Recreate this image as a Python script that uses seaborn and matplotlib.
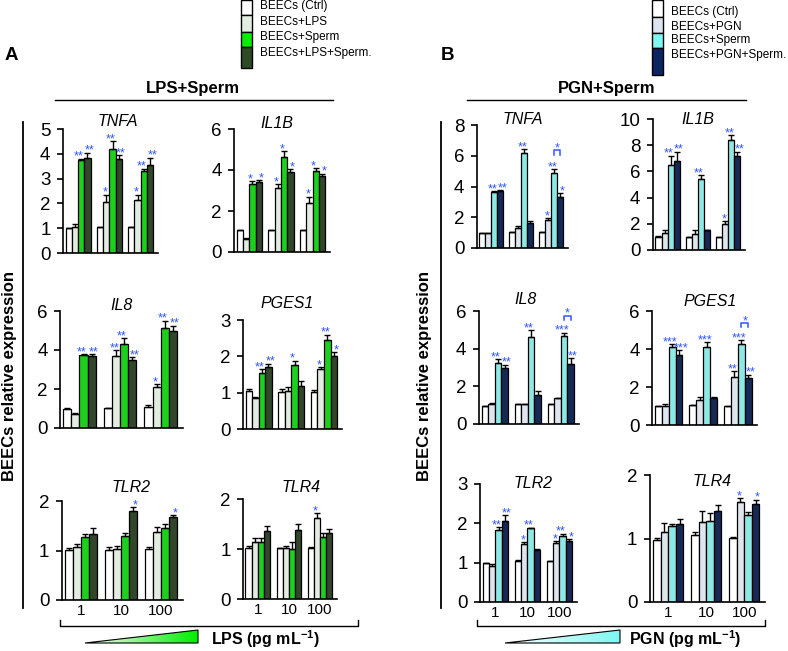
import numpy as np
import pandas as pd
import matplotlib
matplotlib.use("Agg")
import matplotlib.pyplot as plt
from matplotlib.colors import LinearSegmentedColormap
from matplotlib.patches import Polygon, Rectangle
import seaborn as sns

plt.rcParams['font.family'] = ['Liberation Sans', 'DejaVu Sans']
plt.rcParams['mathtext.fontset'] = 'custom'
plt.rcParams['mathtext.rm'] = 'Liberation Sans'
plt.rcParams['mathtext.bf'] = 'Liberation Sans:bold'

# categories
doses = ["1", "10", "100"]
groups_lps = ["BEECs (Ctrl)", "BEECs+LPS", "BEECs+Sperm", "BEECs+LPS+Sperm."]
groups_pgn = ["BEECs (Ctrl)", "BEECs+PGN", "BEECs+Sperm", "BEECs+PGN+Sperm."]
colors_lps = ["#ffffff", "#e2eedf", "#00ee00", "#2f4a26"]
colors_pgn = ["#ffffff", "#dde4ef", "#7ff7f2", "#0b2560"]
star_color = "#2f55ff"

# panel A, LPS + sperm ; rows = dose 1, 10, 100 ; cols = groups
lps_tnfa = [[1.0, 1.05, 3.75, 3.85], [1.05, 2.05, 4.2, 3.8], [1.05, 2.15, 3.3, 3.55]]
lps_tnfa_err = [[0.0, 0.1, 0.05, 0.2], [0.0, 0.3, 0.3, 0.15], [0.0, 0.2, 0.1, 0.3]]
lps_tnfa_sig = [["", "", "**", "**"], ["", "*", "**", "**"], ["", "*", "**", "**"]]

lps_il1b = [[1.05, 0.62, 3.3, 3.42], [1.05, 3.1, 4.62, 3.92], [1.05, 2.4, 3.95, 3.7]]
lps_il1b_err = [[0.0, 0.08, 0.15, 0.1], [0.0, 0.2, 0.3, 0.12], [0.0, 0.3, 0.15, 0.12]]
lps_il1b_sig = [["", "", "*", "*"], ["", "*", "*", "*"], ["", "*", "*", "*"]]

lps_il8 = [[0.97, 0.72, 3.75, 3.7], [1.03, 3.68, 4.3, 3.5], [1.1, 2.1, 5.15, 4.95]]
lps_il8_err = [[0.07, 0.05, 0.05, 0.08], [0.0, 0.3, 0.3, 0.12], [0.1, 0.15, 0.35, 0.3]]
lps_il8_sig = [["", "", "**", "**"], ["", "**", "**", "**"], ["", "*", "**", "**"]]

lps_pges1 = [[1.05, 0.85, 1.55, 1.7], [1.03, 1.05, 1.75, 1.18], [1.03, 1.65, 2.45, 2.02]]
lps_pges1_err = [[0.05, 0.02, 0.1, 0.1], [0.07, 0.1, 0.13, 0.15], [0.05, 0.05, 0.15, 0.1]]
lps_pges1_sig = [["", "", "**", "**"], ["", "", "*", ""], ["", "*", "**", "*"]]

lps_tlr2 = [[1.02, 1.07, 1.27, 1.33], [1.02, 1.03, 1.3, 1.8], [1.03, 1.38, 1.45, 1.67]]
lps_tlr2_err = [[0.03, 0.07, 0.06, 0.12], [0.05, 0.06, 0.06, 0.08], [0.05, 0.1, 0.08, 0.05]]
lps_tlr2_sig = [["", "", "", ""], ["", "", "", "*"], ["", "", "", "*"]]

lps_tlr4 = [[1.03, 1.15, 1.15, 1.37], [1.02, 1.02, 1.0, 1.38], [1.02, 1.62, 1.25, 1.32]]
lps_tlr4_err = [[0.03, 0.07, 0.07, 0.1], [0.0, 0.05, 0.15, 0.12], [0.03, 0.1, 0.08, 0.08]]
lps_tlr4_sig = [["", "", "", ""], ["", "", "", ""], ["", "*", "", ""]]

# panel B, PGN + sperm
pgn_tnfa = [[0.95, 0.95, 3.65, 3.7], [1.05, 1.3, 6.15, 1.6], [1.05, 1.8, 4.85, 3.3]]
pgn_tnfa_err = [[0.0, 0.0, 0.05, 0.05], [0.0, 0.15, 0.3, 0.15], [0.0, 0.15, 0.3, 0.25]]
pgn_tnfa_sig = [["", "", "**", "**"], ["", "", "**", ""], ["", "*", "**", "*"]]

pgn_il1b = [[1.0, 1.3, 6.5, 6.8], [1.0, 1.2, 5.4, 1.5], [1.0, 2.0, 8.4, 7.2]]
pgn_il1b_err = [[0.1, 0.2, 0.7, 0.7], [0.0, 0.3, 0.3, 0.0], [0.0, 0.2, 0.35, 0.3]]
pgn_il1b_sig = [["", "", "**", "**"], ["", "", "**", ""], ["", "*", "**", "**"]]

pgn_il8 = [[0.95, 1.05, 3.25, 3.0], [1.05, 1.05, 4.6, 1.55], [1.05, 1.4, 4.65, 3.2]]
pgn_il8_err = [[0.0, 0.05, 0.2, 0.15], [0.0, 0.0, 0.4, 0.2], [0.0, 0.0, 0.2, 0.3]]
pgn_il8_sig = [["", "", "**", "**"], ["", "", "**", ""], ["", "", "***", "**"]]

pgn_pges1 = [[1.0, 1.0, 4.1, 3.7], [1.05, 1.3, 4.1, 1.4], [1.0, 2.55, 4.25, 2.45]]
pgn_pges1_err = [[0.0, 0.08, 0.15, 0.25], [0.0, 0.15, 0.25, 0.1], [0.0, 0.3, 0.2, 0.2]]
pgn_pges1_sig = [["", "", "***", "***"], ["", "", "***", ""], ["", "**", "***", "**"]]

pgn_tlr2 = [[1.0, 0.91, 1.82, 2.05], [1.04, 1.48, 1.87, 1.31], [1.04, 1.49, 1.69, 1.55]]
pgn_tlr2_err = [[0.0, 0.05, 0.08, 0.15], [0.04, 0.05, 0.02, 0.04], [0.0, 0.05, 0.05, 0.05]]
pgn_tlr2_sig = [["", "", "**", "**"], ["", "*", "**", ""], ["", "*", "**", "*"]]

pgn_tlr4 = [[0.98, 1.11, 1.19, 1.23], [1.06, 1.26, 1.27, 1.43], [1.01, 1.58, 1.37, 1.54]]
pgn_tlr4_err = [[0.03, 0.13, 0.04, 0.08], [0.05, 0.18, 0.13, 0.1], [0.02, 0.05, 0.04, 0.07]]
pgn_tlr4_sig = [["", "", "", ""], ["", "", "", ""], ["", "*", "", "*"]]

W, H = 788, 651
fig = plt.figure(figsize=(W / 100, H / 100), dpi=100)

# overlay in pixel coords for decorations
ov = fig.add_axes([0, 0, 1, 1])
ov.set_xlim(0, W)
ov.set_ylim(H, 0)
ov.axis("off")

# small sideways nudge (points) of the star labels per group
star_dx = [0, -1, -1.5, 1.5]


def draw_gene(rect, gene, title_xy, means, errs, sigs, groups, colors, ymax,
              yticks, bracket=None, show_x=False):
    x0, x1, y0, y1 = rect
    ax = fig.add_axes([x0 / W, 1 - y0 / H, (x1 - x0) / W, (y0 - y1) / H])
    ax.set_facecolor("none")
    df = pd.DataFrame({
        "dose": np.repeat(doses, 4),
        "group": groups * 3,
        "value": np.ravel(means),
    })
    sns.barplot(data=df, x="dose", y="value", hue="group", order=doses,
                hue_order=groups, palette=colors, edgecolor="black",
                linewidth=0.9, errorbar=None, legend=False, ax=ax, gap=0)
    bar_sets = list(ax.containers)
    centers = {}
    for h, cont in enumerate(bar_sets):
        for d, bar in enumerate(cont.patches):
            xc = bar.get_x() + bar.get_width() / 2
            centers[(d, h)] = xc
            m, e = means[d][h], errs[d][h]
            ax.errorbar(xc, m, yerr=[[0], [e]], fmt="none", ecolor="black",
                        elinewidth=1, capsize=2.3, capthick=1)
            if sigs[d][h]:
                ax.annotate(sigs[d][h], (xc, m + e), xytext=(star_dx[h], -3),
                            textcoords="offset points", ha="center",
                            va="bottom", color=star_color, fontsize=9)
    if bracket:
        # bracket between sperm and combined bar for the last dose
        d = 2
        xa, xb = centers[(d, 2)], centers[(d, 3)]
        top = max(means[d][2] + errs[d][2], means[d][3] + errs[d][3])
        yb = top + 0.15 * ymax
        tick = 0.035 * ymax
        ax.plot([xa, xa, xb, xb], [yb - tick, yb, yb, yb - tick],
                color=star_color, lw=1.1, clip_on=False)
        ax.annotate(bracket, ((xa + xb) / 2, yb), xytext=(0, -3),
                    textcoords="offset points", ha="center", va="bottom",
                    color=star_color, fontsize=9)
    ax.set_ylim(0, ymax)
    ax.set_yticks(yticks)
    ax.set_xlim(-0.48, 2.55)
    ax.set_xlabel("")
    ax.set_ylabel("")
    for s in ["top", "right"]:
        ax.spines[s].set_visible(False)
    ax.spines["left"].set_linewidth(1.2)
    ax.spines["bottom"].set_linewidth(1.2)
    ax.tick_params(axis="y", direction="out", length=4, width=1.2,
                   labelsize=13.5, pad=5)
    ax.tick_params(axis="x", length=0, labelsize=11, pad=3,
                   labelbottom=show_x)
    ov.text(title_xy[0], title_xy[1], gene, fontstyle="italic",
            fontsize=11.5, ha="center", va="center")
    return ax


# panel A
draw_gene((63, 158, 253, 129), "TNFA", (118, 121), lps_tnfa, lps_tnfa_err,
          lps_tnfa_sig, groups_lps, colors_lps, 5, range(0, 6))
draw_gene((234, 330, 252, 129), "IL1B", (277, 124), lps_il1b, lps_il1b_err,
          lps_il1b_sig, groups_lps, colors_lps, 6, [0, 2, 4, 6])
draw_gene((60, 183, 428, 311), "IL8", (121, 305), lps_il8, lps_il8_err,
          lps_il8_sig, groups_lps, colors_lps, 6, [0, 2, 4, 6])
draw_gene((243, 342, 429, 320), "PGES1", (287, 303), lps_pges1,
          lps_pges1_err, lps_pges1_sig, groups_lps, colors_lps, 3,
          [0, 1, 2, 3])
draw_gene((62, 183, 600, 501), "TLR2", (131, 488), lps_tlr2, lps_tlr2_err,
          lps_tlr2_sig, groups_lps, colors_lps, 2, [0, 1, 2], show_x=True)
draw_gene((243, 337, 599, 499), "TLR4", (301, 487), lps_tlr4, lps_tlr4_err,
          lps_tlr4_sig, groups_lps, colors_lps, 2, [0, 1, 2], show_x=True)

# panel B
draw_gene((477, 568, 248, 125), "TNFA", (523, 119), pgn_tnfa, pgn_tnfa_err,
          pgn_tnfa_sig, groups_pgn, colors_pgn, 8, [0, 2, 4, 6, 8],
          bracket="*")
draw_gene((653, 745, 250, 119), "IL1B", (698, 119), pgn_il1b, pgn_il1b_err,
          pgn_il1b_sig, groups_pgn, colors_pgn, 10, [0, 2, 4, 6, 8, 10])
draw_gene((479, 579, 424, 311), "IL8", (525, 300), pgn_il8, pgn_il8_err,
          pgn_il8_sig, groups_pgn, colors_pgn, 6, [0, 2, 4, 6], bracket="*")
draw_gene((652, 757, 425, 311), "PGES1", (710, 302), pgn_pges1,
          pgn_pges1_err, pgn_pges1_sig, groups_pgn, colors_pgn, 6,
          [0, 2, 4, 6], bracket="*")
draw_gene((480, 577, 602, 484), "TLR2", (533, 484), pgn_tlr2, pgn_tlr2_err,
          pgn_tlr2_sig, groups_pgn, colors_pgn, 3, [0, 1, 2, 3], show_x=True)
draw_gene((650, 765, 602, 475), "TLR4", (712, 482), pgn_tlr4, pgn_tlr4_err,
          pgn_tlr4_sig, groups_pgn, colors_pgn, 2, [0, 1, 2], show_x=True)


def panel_decor(letter, lx, title, tx, line_x, vx, ylab_x, groups, colors,
                sw_x, sw_edges, lab_y, br_x, tri_x, tri_color, xlab, xlab_x):
    ov.text(lx, 55, letter, fontsize=13.5, fontweight="bold", ha="left",
            va="center")
    ov.text(tx, 88, title, fontsize=12, fontweight="bold", ha="center",
            va="center")
    ov.plot(line_x, [100, 100], color="black", lw=1)
    ov.plot([vx, vx], [122, 608], color="black", lw=1.3)
    ov.text(ylab_x, 376, "BEECs relative expression", rotation=90,
            fontsize=12, fontweight="bold", ha="center", va="center")
    # legend swatches
    for i, (g, c) in enumerate(zip(groups, colors)):
        ov.add_patch(Rectangle((sw_x, sw_edges[i]), 11,
                               sw_edges[i + 1] - sw_edges[i], facecolor=c,
                               edgecolor="black", lw=1))
        ov.text(sw_x + 19, lab_y[i], g, fontsize=8.5, ha="left",
                va="center")
    # dose bracket
    ov.plot([br_x[0], br_x[0], br_x[1], br_x[1]], [620, 626, 626, 620],
            color="black", lw=1)
    # gradient wedge
    grad = np.linspace(0, 1, 256).reshape(1, -1)
    cmap = LinearSegmentedColormap.from_list("w", ["#ffffff", tri_color])
    poly = Polygon([(tri_x[0], 643), (tri_x[1], 643), (tri_x[1], 630)],
                   closed=True, facecolor="none", edgecolor="black", lw=0.8)
    im = ov.imshow(grad, cmap=cmap, extent=(tri_x[0], tri_x[1], 643, 630),
                   aspect="auto")
    ov.add_patch(poly)
    im.set_clip_path(poly)
    ov.text(xlab_x, 639, xlab, fontsize=11.5, fontweight="bold", ha="left",
            va="center")


panel_decor("A", 5, "LPS+Sperm", 193, [55, 333], 23, 10, groups_lps,
            colors_lps, 241, [0, 15, 32, 47, 68], [6, 22, 37, 53],
            [60, 358], [85, 198], "#00ee00",
            r"LPS (pg mL$^{\mathbf{-1}}$)", 211)
panel_decor("B", 441, "PGN+Sperm", 607, [467, 746], 441, 425, groups_pgn,
            colors_pgn, 652, [0, 17, 33, 48, 75], [12, 27, 40, 55],
            [477, 765], [505, 620], "#7ff7f2",
            r"PGN (pg mL$^{\mathbf{-1}}$)", 629)

ov.set_xlim(0, W)
ov.set_ylim(H, 0)

fig.savefig("out.png", dpi=100)
